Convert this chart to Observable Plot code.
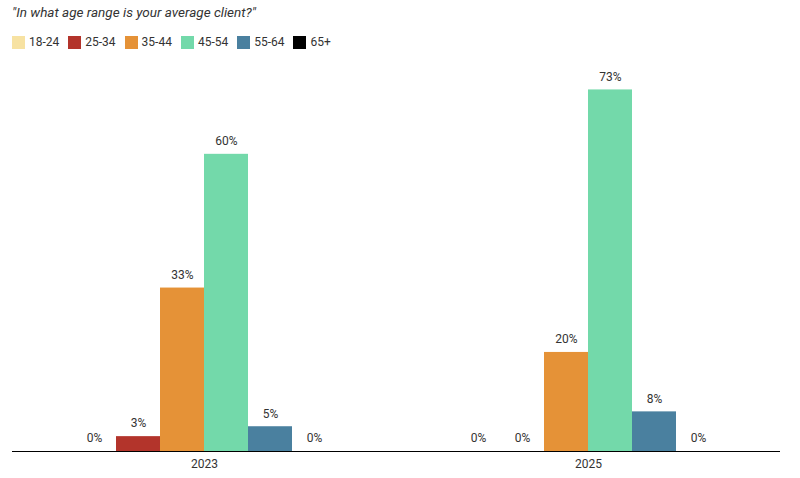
<!DOCTYPE html>
<html>
<head>
<meta charset="utf-8">
<script src="https://cdn.jsdelivr.net/npm/d3@7"></script>
<script src="https://cdn.jsdelivr.net/npm/@observablehq/plot@0.6"></script>
<style>
  html, body { margin: 0; padding: 0; background: #fff; }
  body { width: 800px; height: 478px; overflow: hidden; font-family: Roboto, "Noto Sans", sans-serif; color: #333; }
  #title { position: absolute; left: 12px; top: 4px; font-size: 13.5px; font-style: italic; color: #333; }
  #legend { position: absolute; left: 12px; top: 35px; display: flex; font-size: 12px; color: #333; }
  .item { display: flex; align-items: center; margin-right: 9px; }
  .sw { width: 13px; height: 13px; margin-right: 4px; }
  #chart { position: absolute; left: 0; top: 58px; }
</style>
</head>
<body>
<div id="title">"In what age range is your average client?"</div>
<div id="legend"></div>
<div id="chart"></div>
<script>
const years = ["2023", "2025"];
const ages = ["18-24", "25-34", "35-44", "45-54", "55-64", "65+"];
const colors = ["#f7e2a2", "#b3342b", "#e59237", "#73d9aa", "#4a809f", "#000000"];
const values2023 = [0, 3, 33, 60, 5, 0];
const values2025 = [0, 0, 20, 73, 8, 0];

const data = [];
ages.forEach((a, i) => {
  data.push({year: years[0], age: a, value: values2023[i]});
  data.push({year: years[1], age: a, value: values2025[i]});
});

const legend = document.getElementById("legend");
ages.forEach((a, i) => {
  const it = document.createElement("div");
  it.className = "item";
  it.innerHTML = `<div class="sw" style="background:${colors[i]}"></div><span>${a}</span>`;
  legend.appendChild(it);
});

const chart = Plot.plot({
  width: 800,
  height: 420,
  marginLeft: 12,
  marginRight: 20,
  marginTop: 24,
  marginBottom: 27,
  style: {fontFamily: "Roboto, 'Noto Sans', sans-serif", fontSize: "12px", color: "#333"},
  fx: {domain: years, padding: 0, label: null, tickSize: 0, axis: "bottom", tickPadding: 8},
  x: {domain: ages, axis: null, paddingInner: 0, paddingOuter: 1.27},
  y: {domain: [0, 74.5], axis: null},
  color: {domain: ages, range: colors},
  marks: [
    Plot.barY(data, {fx: "year", x: "age", y: "value", fill: "age"}),
    Plot.text(data, {fx: "year", x: "age", y: "value", text: d => d.value + "%", dy: -13, fill: "#333", fontSize: 12}),
    Plot.ruleY([0], {stroke: "#000", strokeWidth: 1.2})
  ]
});
document.getElementById("chart").appendChild(chart);
</script>
</body>
</html>
